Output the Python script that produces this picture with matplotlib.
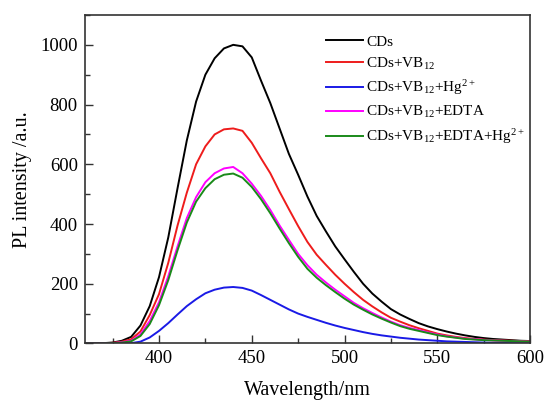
import matplotlib
matplotlib.use("Agg")
import matplotlib.pyplot as plt
from matplotlib.ticker import MultipleLocator

plt.rcParams['font.family'] = ['Liberation Serif', 'DejaVu Serif']
plt.rcParams['mathtext.fontset'] = 'custom'
plt.rcParams['mathtext.rm'] = 'Liberation Serif'
plt.rcParams['mathtext.it'] = 'Liberation Serif:italic'
plt.rcParams['mathtext.bf'] = 'Liberation Serif:bold'

wavelength = list(range(360, 601, 5))

cds = [0, 0, 1, 3, 9, 22, 60, 125, 222, 355, 520, 680, 810, 900, 955, 988, 1000,
       995, 958, 880, 805, 720, 635, 565, 492, 427, 375, 325, 282, 240, 200, 167,
       140, 115, 97, 82, 68, 57, 48, 40, 33, 27, 22, 18, 15, 13, 11, 9, 8]
cds_vb = [0, 0, 1, 2, 6, 14, 40, 95, 165, 270, 395, 505, 600, 660, 700, 717, 720,
          712, 672, 620, 570, 508, 450, 393, 340, 297, 263, 230, 200, 172, 146, 124,
          104, 86, 73, 61, 51, 42, 33, 27, 22, 18, 15, 13, 11, 10, 9, 8, 7]
cds_vb_hg = [0, 0, 0, 0, 0, 1, 6, 20, 42, 68, 97, 125, 148, 168, 180, 187, 189,
             186, 177, 162, 146, 130, 114, 100, 89, 79, 69, 60, 52, 45, 38, 32,
             27, 23, 19, 16, 13, 11, 9, 7, 6, 5, 4, 3, 2, 2, 1, 1, 1]
cds_vb_edta = [0, 0, 0, 1, 4, 9, 30, 75, 138, 225, 325, 420, 490, 540, 570, 586, 591,
               570, 535, 494, 447, 395, 347, 300, 262, 230, 204, 180, 158, 136, 118, 102,
               87, 73, 61, 52, 45, 37, 30, 24, 20, 16, 14, 12, 10, 9, 8, 7, 6]
cds_vb_edta_hg = [0, 0, 0, 1, 3, 7, 25, 65, 128, 212, 312, 405, 475, 520, 550, 565, 569,
                  555, 524, 483, 436, 385, 336, 290, 250, 220, 195, 172, 150, 130, 113, 97,
                  83, 70, 58, 49, 42, 35, 28, 23, 19, 15, 13, 11, 10, 9, 8, 7, 6]

labels = ['CDs', r'CDs+VB$_{12}$', r'CDs+VB$_{12}$+Hg$^{2+}$',
          r'CDs+VB$_{12}$+EDTA', r'CDs+VB$_{12}$+EDTA+Hg$^{2+}$']
colors = ['#000000', '#ee1c1c', '#1a1ae6', '#ff00ff', '#1a8a1a']
series = [cds, cds_vb, cds_vb_hg, cds_vb_edta, cds_vb_edta_hg]

fig = plt.figure(figsize=(5.47, 4.05), dpi=100)
ax = fig.add_axes([0.155, 0.152, 0.814, 0.811])

for y, c, lab in zip(series, colors, labels):
    ax.plot(wavelength, y, color=c, lw=1.4, label=lab)

ax.set_xlim(360, 600)
ax.set_ylim(0, 1100)
ax.xaxis.set_major_locator(MultipleLocator(50))
ax.xaxis.set_minor_locator(MultipleLocator(25))
ax.yaxis.set_major_locator(MultipleLocator(200))
ax.yaxis.set_minor_locator(MultipleLocator(100))
ax.set_yticks([0, 200, 400, 600, 800, 1000])
ax.tick_params(which='both', direction='in', top=False, right=False,
               labelsize=13.5, width=1.0, color='#333333')
ax.tick_params(which='major', length=6, pad=5)
ax.tick_params(which='minor', length=3.5)
for s in ax.spines.values():
    s.set_linewidth(1.2)
    s.set_color('#333333')

ax.set_xlabel('Wavelength/nm', fontsize=14.5, labelpad=10)
ax.set_ylabel('PL intensity /a.u.', fontsize=14.5, labelpad=6)

ax.legend(loc='upper left', bbox_to_anchor=(0.528, 0.958), frameon=False,
          fontsize=11, handlelength=2.4, handletextpad=0.25, labelspacing=0.45,
          borderaxespad=0.0)

fig.savefig('out.png', dpi=100)
